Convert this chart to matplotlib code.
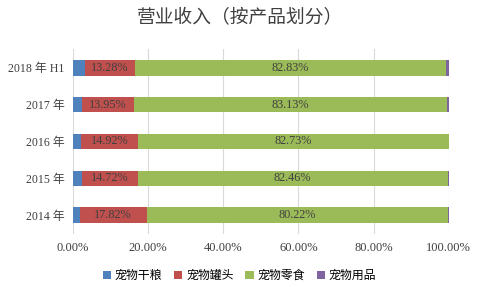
import matplotlib.pyplot as plt

# 数据（从下到上）
years = ["2014 年", "2015 年", "2016 年", "2017 年", "2018 年 H1"]
series = ["宠物干粮", "宠物罐头", "宠物零食", "宠物用品"]
dry = [1.78, 2.50, 2.30, 2.40, 3.19]
canned = [17.82, 14.72, 14.92, 13.95, 13.28]
snacks = [80.22, 82.46, 82.73, 83.13, 82.83]
supplies = [0.18, 0.32, 0.05, 0.52, 0.70]
colors = ["#4F81BD", "#C0504D", "#9BBB59", "#8064A2"]

fonts = ["Liberation Serif", "Noto Sans CJK SC"]

fig = plt.figure(figsize=(4.79, 2.87), dpi=100)
ax = fig.add_axes([0.152, 0.186, 0.785, 0.642])

left = [0] * len(years)
for name, vals, c in zip(series, [dry, canned, snacks, supplies], colors):
    bars = ax.barh(years, vals, left=left, height=0.42, color=c, label=name, zorder=3)
    if name in ("宠物罐头", "宠物零食"):
        for b, v in zip(bars, vals):
            ax.text(b.get_x() + b.get_width() / 2, b.get_y() + b.get_height() / 2,
                    f"{v:.2f}%", ha="center", va="center", fontsize=8.8,
                    color="#404040", family=fonts, zorder=4)
    left = [l + v for l, v in zip(left, vals)]

ax.set_xlim(0, 100)
ax.set_ylim(-0.5, len(years) - 0.5)
ax.set_xticks([0, 20, 40, 60, 80, 100])
ax.set_xticklabels([f"{t:.2f}%" for t in [0, 20, 40, 60, 80, 100]], family=fonts, fontsize=9, color="#404040")
ax.set_yticks(range(len(years)))
ax.set_yticklabels(years, family=fonts, fontsize=8.6, color="#404040")
ax.tick_params(length=0, pad=6)
ax.grid(axis="x", color="#D9D9D9", linewidth=0.8, zorder=0)
for s in ax.spines.values():
    s.set_visible(False)

fig.text(0.5, 0.94, "营业收入（按产品划分）", ha="center", va="center",
         fontsize=13.5, color="#404040", family="Noto Sans CJK SC")

ax.legend(loc="center", bbox_to_anchor=(0.5, 0.04), bbox_transform=fig.transFigure,
          ncol=4, frameon=False, handlelength=0.7, handleheight=0.7,
          handletextpad=0.3, columnspacing=1.0,
          prop={"family": "Noto Sans CJK SC", "size": 8.6})

plt.savefig("out.png", dpi=100)
